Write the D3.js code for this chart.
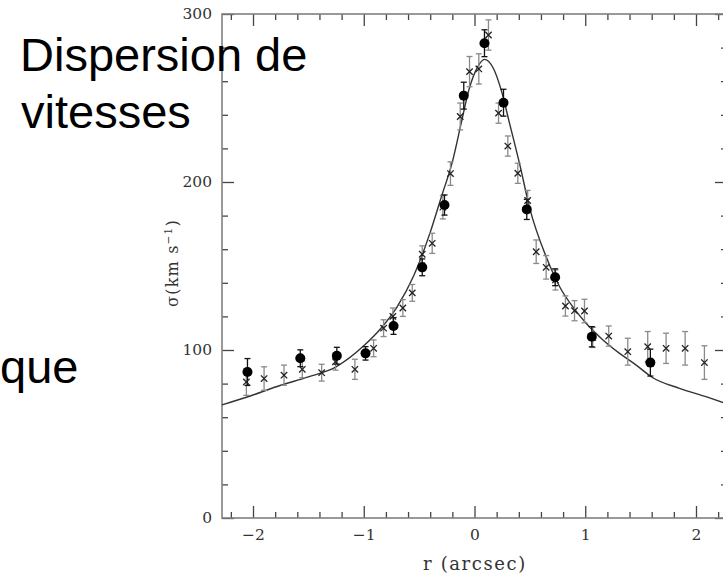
<!DOCTYPE html>
<html>
<head>
<meta charset="utf-8">
<script src="https://cdn.jsdelivr.net/npm/d3@7"></script>
<style>
  html, body { margin: 0; padding: 0; background: #fff; }
  svg { display: block; }
</style>
</head>
<body>
<svg id="chart" width="723" height="577"></svg>
<script>
// Velocity dispersion profile: long-slit measurements and model curve

// filled circles: radius (arcsec), sigma (km/s), error
const circleR   = [-2.05, -1.573, -1.243, -0.984, -0.731, -0.472, -0.271, -0.097, 0.09, 0.262, 0.472, 0.728, 1.059, 1.588];
const circleSig = [86.9, 95.1, 96.6, 98, 114.3, 149.2, 186.3, 251.4, 282.6, 247.2, 183.7, 143.3, 107.9, 92.5];
const circleErr = [8, 5, 5, 4, 5, 5, 6, 8, 8, 8, 6, 5, 6, 8];

// crosses: radius (arcsec), sigma (km/s), error
const crossR   = [-2.06, -1.90, -1.72, -1.555, -1.38, -1.255, -1.08, -0.911, -0.821, -0.737, -0.647, -0.562, -0.472, -0.382, -0.286, -0.217, -0.129, -0.045, 0.039, 0.126, 0.217, 0.301, 0.391, 0.48, 0.557, 0.647, 0.731, 0.821, 0.903, 0.993, 1.068, 1.212, 1.384, 1.564, 1.73, 1.902, 2.076];
const crossSig = [81, 83, 85, 88.5, 86.5, 93, 88.5, 101, 113, 120, 125, 134, 157, 163.5, 185, 205, 239, 265.7, 267.3, 287.5, 241, 221.4, 205.2, 189, 158.5, 149.2, 141.7, 126.2, 123.4, 123.2, 107.5, 108.3, 99, 102, 101, 101, 92.5];
const crossErr = [8, 7, 6, 5, 5, 5, 6, 5, 5, 5, 5, 5, 5, 6, 7, 7, 8, 9, 9, 9, 6, 6, 6, 6, 7, 7, 6, 6, 6, 7, 6, 6, 8, 9, 9, 10, 10];

// model curve
const modelR   = [-2.28, -2.0, -1.75, -1.5, -1.25, -1.0, -0.85, -0.7, -0.55, -0.4, -0.3, -0.2, -0.12, -0.05, 0.03, 0.09, 0.17, 0.24, 0.32, 0.41, 0.5, 0.65, 0.77, 0.89, 1.0, 1.16, 1.31, 1.46, 1.61, 1.85, 2.09, 2.28];
const modelSig = [67.3, 73.2, 79, 84, 90, 102.5, 112.5, 125.5, 144, 170, 191, 212, 235, 255, 268.7, 273, 267.7, 255, 234, 210, 184, 155, 137.5, 125.5, 116.5, 106, 98, 91, 83.5, 77.2, 72.2, 68];

const xMajor = [-2, -1, 0, 1, 2];
const yMajor = [0, 100, 200, 300];

const svg = d3.select("#chart");
const L = 222, R = 727, T = 14, B = 518;

const x = d3.scaleLinear().domain([-2.28, 2.28]).range([L, R]);
const y = d3.scaleLinear().domain([0, 300]).range([B, T]);

const xMinor = d3.range(-22, 23, 2).map(v => v / 10).filter(v => Math.abs(v - Math.round(v)) > 1e-6);
const yMinor = d3.range(0, 301, 20).filter(v => v % 100 !== 0);

const tickColor = "#444";
const serif = "'DejaVu Serif', serif";
const intFmt = d3.format("d");

function styleAxis(g) {
  g.select(".domain").remove();
  g.selectAll(".tick line").attr("stroke", tickColor).attr("stroke-width", 1.3);
  g.selectAll(".tick text").attr("fill", "#333").attr("font-family", serif).attr("font-size", 15.5);
}

// bottom
svg.append("g").attr("transform", `translate(0,${B})`)
  .call(d3.axisBottom(x).tickValues(xMajor).tickFormat(intFmt).tickSizeInner(-12).tickSizeOuter(0).tickPadding(11))
  .call(styleAxis);
svg.append("g").attr("transform", `translate(0,${B})`)
  .call(d3.axisBottom(x).tickValues(xMinor).tickSizeInner(-6).tickSizeOuter(0).tickFormat(""))
  .call(styleAxis);
// top
svg.append("g").attr("transform", `translate(0,${T})`)
  .call(d3.axisTop(x).tickValues(xMajor).tickSizeInner(-12).tickSizeOuter(0).tickFormat(""))
  .call(styleAxis);
svg.append("g").attr("transform", `translate(0,${T})`)
  .call(d3.axisTop(x).tickValues(xMinor).tickSizeInner(-6).tickSizeOuter(0).tickFormat(""))
  .call(styleAxis);
// left
svg.append("g").attr("transform", `translate(${L},0)`)
  .call(d3.axisLeft(y).tickValues(yMajor).tickFormat(intFmt).tickSizeInner(-12).tickSizeOuter(0).tickPadding(10))
  .call(styleAxis);
svg.append("g").attr("transform", `translate(${L},0)`)
  .call(d3.axisLeft(y).tickValues(yMinor).tickSizeInner(-6).tickSizeOuter(0).tickFormat(""))
  .call(styleAxis);
// right
svg.append("g").attr("transform", `translate(${R},0)`)
  .call(d3.axisRight(y).tickValues(yMajor).tickSizeInner(-12).tickSizeOuter(0).tickFormat(""))
  .call(styleAxis);
svg.append("g").attr("transform", `translate(${R},0)`)
  .call(d3.axisRight(y).tickValues(yMinor).tickSizeInner(-6).tickSizeOuter(0).tickFormat(""))
  .call(styleAxis);

// frame
svg.append("rect")
  .attr("x", L).attr("y", T).attr("width", R - L).attr("height", B - T)
  .attr("fill", "none").attr("stroke", "#808080").attr("stroke-width", 1.6);

// axis titles
svg.append("text")
  .attr("x", (L + R) / 2 + 0.5).attr("y", 570)
  .attr("text-anchor", "middle")
  .attr("font-family", serif).attr("font-size", 18).attr("letter-spacing", 1.6)
  .attr("fill", "#333")
  .text("r (arcsec)");

const yt = svg.append("text")
  .attr("transform", "translate(178,263) rotate(-90)")
  .attr("text-anchor", "middle")
  .attr("font-family", serif).attr("font-size", 16).attr("letter-spacing", 1.2)
  .attr("fill", "#333");
yt.append("tspan").text("σ(km s");
yt.append("tspan").attr("font-size", 10.5).attr("dy", "-0.6em").text("−1");
yt.append("tspan").attr("dy", "0.4em").text(")");

// model curve
const line = d3.line().x(d => x(d[0])).y(d => y(d[1])).curve(d3.curveMonotoneX);
svg.append("path")
  .datum(modelR.map((r, i) => [r, modelSig[i]]))
  .attr("fill", "none").attr("stroke", "#333").attr("stroke-width", 1.4)
  .attr("d", line);

// error bars
function errorBars(rs, sigs, errs, color) {
  const g = svg.append("g").attr("stroke", color).attr("stroke-width", 1.3).attr("fill", "none");
  rs.forEach((r, i) => {
    const cx = x(r), y0 = y(sigs[i] - errs[i]), y1 = y(sigs[i] + errs[i]);
    g.append("line").attr("x1", cx).attr("x2", cx).attr("y1", y0).attr("y2", y1);
    g.append("line").attr("x1", cx - 3).attr("x2", cx + 3).attr("y1", y0).attr("y2", y0);
    g.append("line").attr("x1", cx - 3).attr("x2", cx + 3).attr("y1", y1).attr("y2", y1);
  });
}
errorBars(crossR, crossSig, crossErr, "#8a8a8a");
errorBars(circleR, circleSig, circleErr, "#111");

// crosses
svg.append("g").selectAll("path").data(crossR).join("path")
  .attr("transform", (r, i) => `translate(${x(r)},${y(crossSig[i])})`)
  .attr("d", "M-3.2,-3.2L3.2,3.2M-3.2,3.2L3.2,-3.2")
  .attr("stroke", "#222").attr("stroke-width", 1.3);

// filled circles
svg.append("g").selectAll("circle").data(circleR).join("circle")
  .attr("cx", r => x(r)).attr("cy", (r, i) => y(circleSig[i]))
  .attr("r", 5).attr("fill", "#000");

// overlay captions
const sans = "'Liberation Sans', Arial, sans-serif";
svg.append("text").attr("x", 20).attr("y", 71)
  .attr("font-family", sans).attr("font-size", 47).attr("fill", "#000")
  .text("Dispersion de");
svg.append("text").attr("x", 21).attr("y", 128)
  .attr("font-family", sans).attr("font-size", 47).attr("fill", "#000")
  .text("vitesses");
svg.append("text").attr("x", 0).attr("y", 383)
  .attr("font-family", sans).attr("font-size", 47).attr("fill", "#000")
  .text("que");
</script>
</body>
</html>
